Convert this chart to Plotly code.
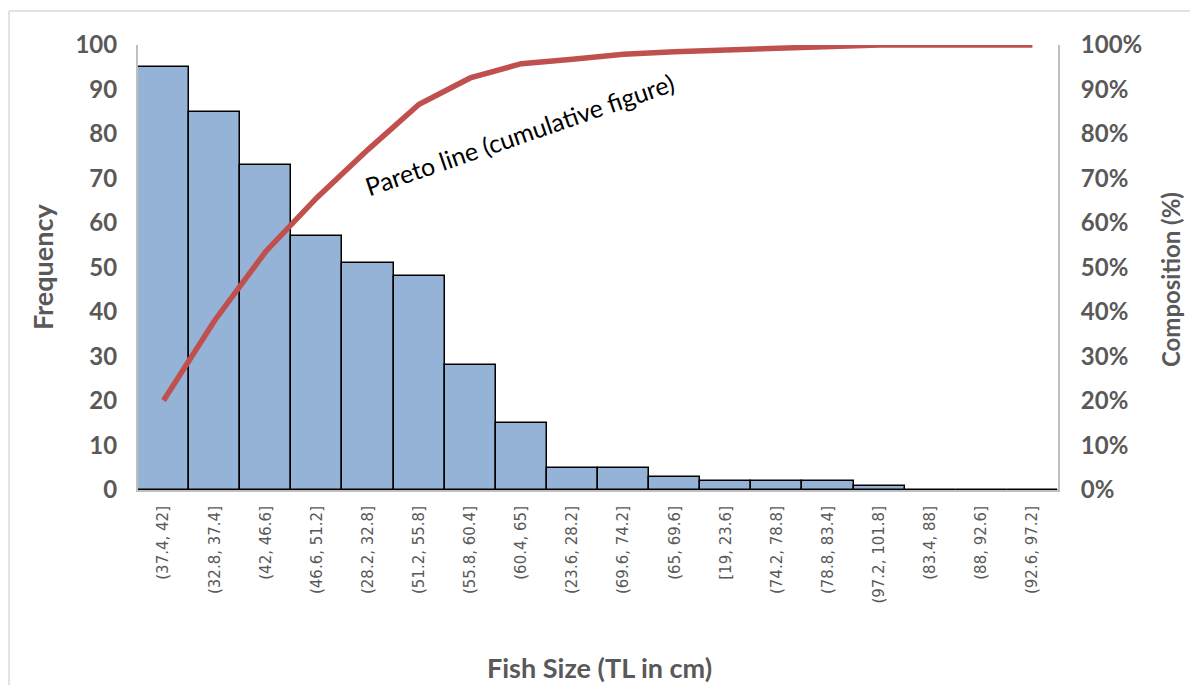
import plotly.graph_objects as go

categories = ["(37.4, 42]", "(32.8, 37.4]", "(42, 46.6]", "(46.6, 51.2]", "(28.2, 32.8]",
              "(51.2, 55.8]", "(55.8, 60.4]", "(60.4, 65]", "(23.6, 28.2]", "(69.6, 74.2]",
              "(65, 69.6]", "[19, 23.6]", "(74.2, 78.8]", "(78.8, 83.4]", "(97.2, 101.8]",
              "(83.4, 88]", "(88, 92.6]", "(92.6, 97.2]"]
frequency = [95, 85, 73, 57, 51, 48, 28, 15, 5, 5, 3, 2, 2, 2, 1, 0, 0, 0]
cumulative_pct = [20.1, 38.1, 53.6, 65.7, 76.5, 86.7, 92.6, 95.8, 96.8, 97.9,
                  98.5, 98.9, 99.4, 99.8, 100, 100, 100, 100]
left_ticks = list(range(0, 101, 10))
right_ticks = list(range(0, 101, 10))
right_labels = [f"{v}%" for v in right_ticks]

GRAY = "#595959"
AXIS = "#BFBFBF"
FONT = "Lato"

fig = go.Figure()
fig.add_trace(go.Bar(
    x=categories, y=frequency,
    marker=dict(color="#95B3D7", line=dict(color="black", width=1.5)),
    width=1.0, showlegend=False, hoverinfo="x+y",
))
fig.add_trace(go.Scatter(
    x=categories, y=cumulative_pct, yaxis="y2", mode="lines",
    line=dict(color="#C0504D", width=5.5), showlegend=False,
))

fig.update_layout(
    width=1182, height=677,
    margin=dict(l=130, r=132, t=37, b=195),
    plot_bgcolor="white", paper_bgcolor="white",
    bargap=0,
    xaxis=dict(
        type="category", tickangle=-90, showgrid=False,
        showline=True, linecolor=AXIS, linewidth=2,
        tickfont=dict(family="DejaVu Sans", size=15, color=GRAY),
        ticklabelstandoff=8,
        range=[-0.5, 17.5],
    ),
    yaxis=dict(
        range=[0, 100], tickvals=left_ticks, showgrid=False, zeroline=False,
        showline=True, linecolor=AXIS, linewidth=2,
        tickfont=dict(family=FONT, size=24, color=GRAY, weight="bold"),
        ticklabelstandoff=14,
    ),
    yaxis2=dict(
        range=[0, 100], tickvals=right_ticks, ticktext=right_labels, overlaying="y", side="right",
        showgrid=False, zeroline=False, showline=True, linecolor=AXIS, linewidth=2,
        tickfont=dict(family=FONT, size=24, color=GRAY, weight="bold"),
        ticklabelstandoff=16,
    ),
    annotations=[
        dict(text="Pareto line (cumulative figure)", x=0.415, y=0.80, xref="paper", yref="paper",
             xanchor="center", yanchor="middle",
             showarrow=False, textangle=-19, font=dict(family=FONT, size=25, color="black")),
        dict(text="<b>Frequency</b>", x=-0.1043, y=0.501, xref="paper", yref="paper",
             showarrow=False, textangle=-90, xanchor="center", yanchor="middle",
             font=dict(family=FONT, size=27, color=GRAY)),
        dict(text="<b>Composition (%)</b>", x=1.123, y=0.472, xref="paper", yref="paper",
             showarrow=False, textangle=-90, xanchor="center", yanchor="middle",
             font=dict(family=FONT, size=24, color=GRAY)),
        dict(text="<b>Fish Size (TL in cm)</b>", x=0.502, y=-0.398, xref="paper", yref="paper",
             showarrow=False, xanchor="center", yanchor="middle",
             font=dict(family=FONT, size=27, color=GRAY)),
    ],
    shapes=[
        dict(type="line", xref="paper", yref="paper", x0=-0.1402, x1=-0.1402, y0=1.0764, y1=-0.45,
             line=dict(color="#D9D9D9", width=1.5)),
        dict(type="line", xref="paper", yref="paper", x0=-0.1402, x1=1.15, y0=1.0764, y1=1.0764,
             line=dict(color="#D9D9D9", width=1.5)),
    ],
)

fig.write_html("out.html")
